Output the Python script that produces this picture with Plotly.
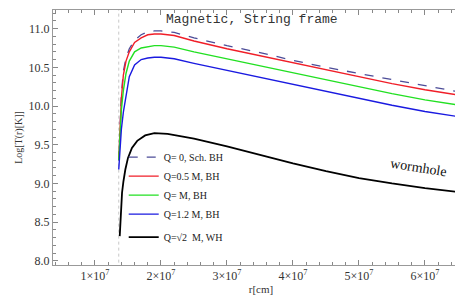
import plotly.graph_objects as go

# radius in units of 1e7 cm
r_bh = [1.36, 1.38, 1.40, 1.43, 1.47, 1.52, 1.60, 1.70, 1.80, 1.90, 2.00,
        2.20, 2.50, 3.00, 3.50, 4.00, 4.50, 5.00, 5.50, 6.00, 6.60]
r_wh = [1.375, 1.39, 1.41, 1.43, 1.46, 1.50, 1.56, 1.64, 1.76, 1.90, 2.10,
        2.50, 3.00, 3.50, 4.00, 4.50, 5.00, 5.50, 6.00, 6.60]

logT_sch = [9.30, 9.80, 10.15, 10.45, 10.62, 10.74, 10.85, 10.92, 10.96, 10.97, 10.97,
            10.95, 10.88, 10.78, 10.69, 10.59, 10.50, 10.42, 10.34, 10.26, 10.17]
logT_q05 = [9.30, 9.75, 10.10, 10.40, 10.58, 10.70, 10.82, 10.88, 10.92, 10.93, 10.93,
            10.91, 10.84, 10.74, 10.65, 10.56, 10.47, 10.38, 10.29, 10.21, 10.13]
logT_q1 = [9.30, 9.65, 9.95, 10.20, 10.42, 10.58, 10.70, 10.75, 10.77, 10.78, 10.78,
           10.76, 10.70, 10.61, 10.52, 10.43, 10.34, 10.25, 10.16, 10.08, 10.00]
logT_q12 = [9.18, 9.45, 9.70, 9.92, 10.15, 10.38, 10.53, 10.60, 10.62, 10.63, 10.63,
            10.61, 10.55, 10.46, 10.37, 10.28, 10.19, 10.10, 10.01, 9.93, 9.85]
logT_wh = [8.32, 8.62, 8.88, 9.02, 9.18, 9.33, 9.46, 9.55, 9.62, 9.65, 9.64,
           9.58, 9.48, 9.37, 9.26, 9.16, 9.07, 9.00, 8.94, 8.88]

x_ticks = [1, 2, 3, 4, 5, 6]
x_ticktext = [f"{k}×10<sup>7</sup>" for k in x_ticks]
r_horizon = 1.36

series = [
    ("Q= 0, Sch. BH", r_bh, logT_sch, "#4c4c98", "dash", 1.3, "bh"),
    ("Q=0.5 M, BH", r_bh, logT_q05, "#f01e28", "solid", 1.4, "bh"),
    ("Q= M, BH", r_bh, logT_q1, "#22e022", "solid", 1.4, "bh"),
    ("Q=1.2 M, BH", r_bh, logT_q12, "#1a1ae0", "solid", 1.4, "bh"),
    ("Q=√2  M, WH", r_wh, logT_wh, "#000000", "solid", 1.8, "wh"),
]

fig = go.Figure()

fig.add_trace(go.Scatter(
    x=[r_horizon * 1e7, r_horizon * 1e7], y=[7.9, 11.3],
    mode="lines", line=dict(color="#c8c8c8", width=1, dash="dot"),
    showlegend=False, hoverinfo="skip"
))

for name, r, v, color, dash, width, group in series:
    fig.add_trace(go.Scatter(
        x=[ri * 1e7 for ri in r], y=v, mode="lines", name=name,
        line=dict(color=color, dash=dash, width=width),
        legendgroup=group
    ))

serif = "Liberation Serif, Times New Roman, serif"

fig.add_annotation(
    x=0.478, y=1.0, xref="paper", yref="paper", xanchor="center", yanchor="top",
    text="Magnetic, String frame", showarrow=False,
    font=dict(family="Liberation Mono, Courier New, monospace", size=13, color="#333")
)
fig.add_annotation(
    x=5.9e7, y=9.2, text="wormhole", showarrow=False, textangle=9,
    font=dict(family=serif, size=14, color="#111")
)

axis_common = dict(
    showgrid=False, zeroline=False, showline=True, linecolor="#999",
    linewidth=1, mirror="ticks", ticks="inside", ticklen=5, tickcolor="#888",
    tickfont=dict(family=serif, size=12, color="#333"),
)

fig.update_layout(
    width=463, height=299,
    margin=dict(l=45, r=2, t=2, b=42),
    paper_bgcolor="white", plot_bgcolor="white",
    showlegend=True,
    legend=dict(
        x=0.17, y=0.48, xanchor="left", yanchor="top",
        bgcolor="rgba(0,0,0,0)", font=dict(family=serif, size=10, color="#222"),
        tracegroupgap=4, itemwidth=30
    ),
    xaxis=dict(
        range=[0.364e7, 6.667e7], tickvals=[k * 1e7 for k in x_ticks],
        ticktext=x_ticktext,
        title=dict(text="r[cm]", font=dict(family=serif, size=11, color="#333"), standoff=2),
        minor=dict(ticks="inside", ticklen=3, dtick=0.2e7, tickcolor="#888"),
        **axis_common
    ),
    yaxis=dict(
        range=[7.947, 11.24], tickvals=[8.0, 8.5, 9.0, 9.5, 10.0, 10.5, 11.0],
        ticktext=["8.0", "8.5", "9.0", "9.5", "10.0", "10.5", "11.0"],
        title=dict(text="Log[T(r)[K]]", font=dict(family=serif, size=10, color="#333"), standoff=4),
        minor=dict(ticks="inside", ticklen=3, dtick=0.1, tickcolor="#888"),
        **axis_common
    ),
)

fig.write_html("out.html")
